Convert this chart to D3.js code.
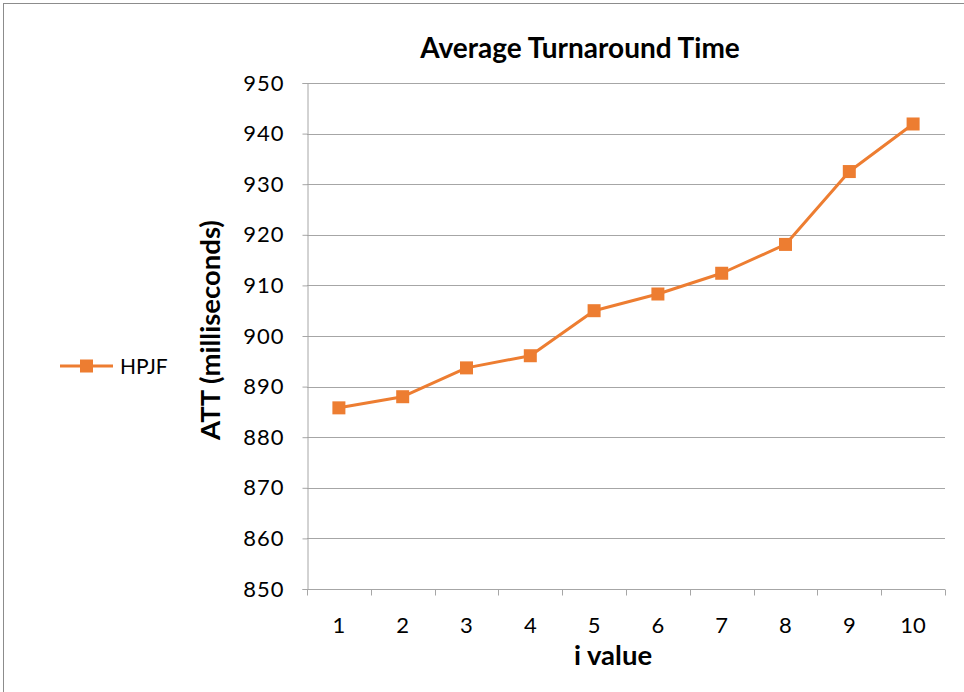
<!DOCTYPE html>
<html>
<head>
<meta charset="utf-8">
<script src="https://cdn.jsdelivr.net/npm/d3@7"></script>
<style>
  html, body { margin: 0; padding: 0; background: #fff; }
  svg { display: block; font-family: Lato, "Open Sans", sans-serif; }
</style>
</head>
<body>
<svg id="chart" width="964" height="692"></svg>
<script>
// Average turnaround time of HPJF for each i value
const iValues = [1, 2, 3, 4, 5, 6, 7, 8, 9, 10];
const hpjfATT = [885.8, 888.0, 893.7, 896.1, 905.0, 908.3, 912.4, 918.1, 932.5, 941.9];
const yTicks = [850, 860, 870, 880, 890, 900, 910, 920, 930, 940, 950];
const seriesName = "HPJF";

const color = "#ED7D31";
const gridColor = "#a6a6a6";
const svg = d3.select("#chart");

// outer frame
svg.append("rect")
  .attr("x", 3.5).attr("y", 3.5)
  .attr("width", 970).attr("height", 700)
  .attr("fill", "none").attr("stroke", "#8c8c8c").attr("stroke-width", 1);

const plot = { left: 307, right: 945, top: 83, bottom: 589 };

const x = d3.scaleBand().domain(iValues).range([plot.left, plot.right]).padding(0);
const y = d3.scaleLinear().domain([850, 950]).range([plot.bottom, plot.top]);

// horizontal gridlines
svg.append("g")
  .selectAll("line")
  .data(yTicks.slice(1))
  .join("line")
  .attr("x1", plot.left).attr("x2", plot.right)
  .attr("y1", d => Math.round(y(d)) + 0.5).attr("y2", d => Math.round(y(d)) + 0.5)
  .attr("stroke", gridColor).attr("stroke-width", 1);

// y axis
const yAxis = svg.append("g")
  .attr("transform", `translate(${plot.left + 0.5},0)`)
  .call(d3.axisLeft(y).tickValues(yTicks).tickSize(5).tickPadding(18).tickFormat(d3.format("d")));
yAxis.select(".domain").attr("stroke", gridColor);
yAxis.selectAll(".tick line").attr("stroke", gridColor);
yAxis.selectAll(".tick text")
  .attr("fill", "#000").attr("font-size", 22).attr("letter-spacing", 1)
  .attr("font-family", "Lato, sans-serif");

// x axis: ticks at category boundaries
const xAxisG = svg.append("g")
  .attr("transform", `translate(0,${Math.round(plot.bottom) + 0.5})`);
xAxisG.append("line")
  .attr("x1", plot.left).attr("x2", plot.right)
  .attr("stroke", gridColor);
const boundaries = iValues.map(d => x(d)).concat([x(iValues[iValues.length - 1]) + x.bandwidth()]);
xAxisG.selectAll("line.tk")
  .data(boundaries)
  .join("line").attr("class", "tk")
  .attr("x1", d => Math.round(d) + 0.5).attr("x2", d => Math.round(d) + 0.5)
  .attr("y1", 0).attr("y2", 6)
  .attr("stroke", gridColor);
xAxisG.selectAll("text")
  .data(iValues)
  .join("text")
  .attr("x", d => x(d) + x.bandwidth() / 2)
  .attr("y", 43)
  .attr("text-anchor", "middle")
  .attr("font-size", 22)
  .attr("fill", "#000")
  .text(d => d);

// line series
const line = d3.line()
  .x((d, i) => x(iValues[i]) + x.bandwidth() / 2)
  .y(d => y(d));
svg.append("path")
  .datum(hpjfATT)
  .attr("d", line)
  .attr("fill", "none")
  .attr("stroke", color)
  .attr("stroke-width", 3)
  .attr("stroke-linejoin", "round");

const m = 13;
svg.append("g")
  .selectAll("rect")
  .data(hpjfATT)
  .join("rect")
  .attr("x", (d, i) => x(iValues[i]) + x.bandwidth() / 2 - m / 2)
  .attr("y", d => y(d) - m / 2)
  .attr("width", m).attr("height", m)
  .attr("fill", color);

// title
svg.append("text")
  .attr("x", 580).attr("y", 58)
  .attr("text-anchor", "middle")
  .attr("font-size", 28).attr("font-weight", "bold")
  .text("Average Turnaround Time");

// axis titles
svg.append("text")
  .attr("transform", `translate(220,330) rotate(-90)`)
  .attr("text-anchor", "middle")
  .attr("font-size", 27.5).attr("font-weight", "bold")
  .text("ATT (milliseconds)");

svg.append("text")
  .attr("x", 613).attr("y", 665)
  .attr("text-anchor", "middle")
  .attr("font-size", 27.5).attr("font-weight", "bold")
  .text("i value");

// legend
const lg = svg.append("g").attr("transform", "translate(60,366)");
lg.append("line").attr("x1", 0).attr("x2", 53).attr("y1", 0).attr("y2", 0)
  .attr("stroke", color).attr("stroke-width", 3);
lg.append("rect").attr("x", 26.5 - m / 2).attr("y", -m / 2).attr("width", m).attr("height", m)
  .attr("fill", color);
lg.append("text").attr("x", 60).attr("y", 8)
  .attr("font-size", 21).attr("fill", "#000")
  .text(seriesName);
</script>
</body>
</html>
